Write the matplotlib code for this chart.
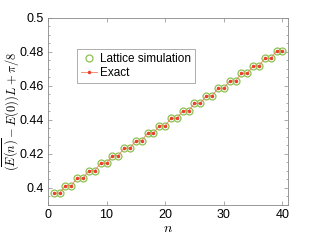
import matplotlib
matplotlib.use("Agg")
import matplotlib.pyplot as plt
from matplotlib.ticker import MultipleLocator

plt.rcParams['font.family'] = ['Liberation Sans', 'DejaVu Sans']
plt.rcParams['mathtext.fontset'] = 'cm'

n = list(range(1, 41))
pair_vals = [0.3970, 0.4014, 0.4058, 0.4102, 0.4146, 0.4190, 0.4234, 0.4278,
             0.4322, 0.4366, 0.4410, 0.4454, 0.4498, 0.4542, 0.4586, 0.4630,
             0.4674, 0.4718, 0.4762, 0.4806]
lattice = [v for v in pair_vals for _ in range(2)]
exact = [v for v in pair_vals for _ in range(2)]

fig = plt.figure(figsize=(3.19, 2.42), dpi=100)
ax = fig.add_axes([0.150, 0.153, 0.752, 0.773])

ax.plot(n, lattice, linestyle='none', marker='o', markersize=5,
        markerfacecolor='none', markeredgecolor='#8cc152', markeredgewidth=0.9,
        label='Lattice simulation')
ax.plot(n, exact, linestyle='-', color='#f08060', linewidth=0.6,
        marker='.', markersize=3, markerfacecolor='#e8402a', markeredgecolor='#e8402a',
        label='Exact')

ax.set_xlim(0, 40.9)
ax.set_ylim(0.39, 0.5)
ax.set_xticks([0, 10, 20, 30, 40])
ax.set_yticks([0.4, 0.42, 0.44, 0.46, 0.48, 0.5])
ax.set_yticklabels(['0.4', '0.42', '0.44', '0.46', '0.48', '0.5'])
ax.yaxis.set_minor_locator(MultipleLocator(0.005))

for s in ax.spines.values():
    s.set_color('#888888')
    s.set_linewidth(0.6)
ax.tick_params(which='both', direction='in', top=True, right=True,
               color='#888888', width=0.5, labelsize=9, pad=3)
ax.tick_params(which='major', length=3)
ax.tick_params(which='minor', length=1.5)

ax.set_xlabel(r'$n$', fontsize=10, labelpad=0)
ax.set_ylabel(r'$(\overline{E(n)}-E(0))L+\pi/8$', fontsize=9)
ax.yaxis.set_label_coords(-0.112, 0.5)

leg = ax.legend(loc='upper left', bbox_to_anchor=(0.12, 0.835), fontsize=8.5,
                frameon=True, fancybox=False, borderpad=0.35, labelspacing=0.15,
                handlelength=1.4, handletextpad=0.2, borderaxespad=0)
leg.get_frame().set_edgecolor('#888888')
leg.get_frame().set_linewidth(0.6)

fig.savefig('out.png', dpi=100)
